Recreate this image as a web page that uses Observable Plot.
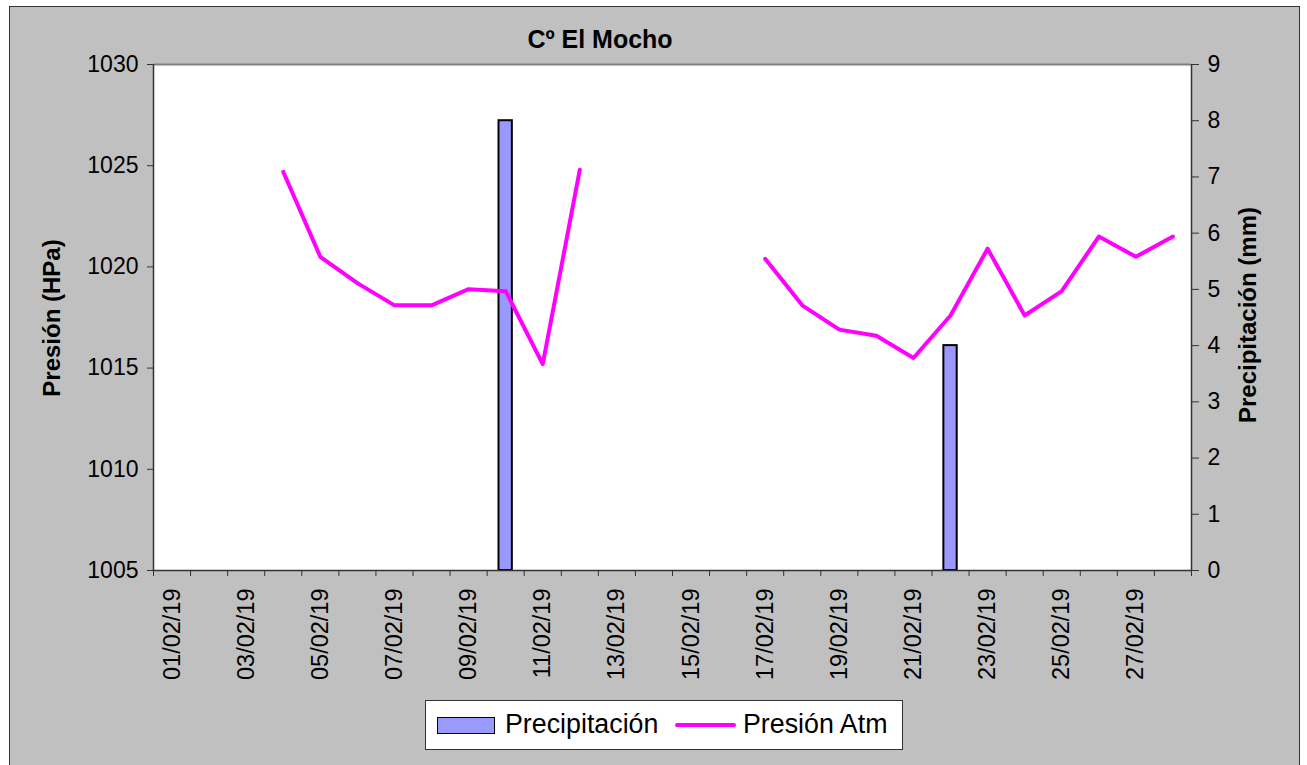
<!DOCTYPE html>
<html><head><meta charset="utf-8">
<script src="https://cdn.jsdelivr.net/npm/d3@7"></script>
<script src="https://cdn.jsdelivr.net/npm/@observablehq/plot@0.6"></script>
<style>
body{margin:0;background:#fff;font-family:"Liberation Sans",Arial,sans-serif;}
#wrap{position:relative;width:1307px;height:765px;overflow:hidden;}
#bg{position:absolute;left:9px;top:6px;width:1289px;height:790px;background:#c0c0c0;border:1px solid #333;}
#chart{position:absolute;left:0;top:0;}
.t{position:absolute;white-space:nowrap;color:#000;line-height:1;}
#title{left:600px;top:27px;transform:translateX(-50%);font-weight:bold;font-size:25px;}
#ylab{left:52px;top:318px;transform:translate(-50%,-50%) rotate(-90deg);font-weight:bold;font-size:24px;}
#y2lab{left:1248px;top:315px;transform:translate(-50%,-50%) rotate(-90deg);font-weight:bold;font-size:24px;}
#legend{position:absolute;left:425px;top:700px;width:476px;height:48px;background:#fff;border:1px solid #333;}
#legend .sw{position:absolute;left:11px;top:16px;width:56px;height:15px;background:#9999ff;border:1.5px solid #000;}
#legend .ln{position:absolute;left:249px;top:22px;width:61px;height:4px;background:#ff00ff;border-radius:2px;}
#legend .l1{position:absolute;left:79px;top:10px;font-size:26.8px;}
#legend .l2{position:absolute;left:317px;top:10px;font-size:26.8px;}
</style></head>
<body>
<div id="wrap">
  <div id="bg"></div>
  <div id="chart"></div>
  <div class="t" id="title">Cº El Mocho</div>
  <div class="t" id="ylab">Presión (HPa)</div>
  <div class="t" id="y2lab">Precipitación (mm)</div>
  <div id="legend"><div class="sw"></div><div class="t l1">Precipitación</div><div class="ln"></div><div class="t l2">Presión Atm</div></div>
</div>
<script>
const dates = ["01/02/19","02/02/19","03/02/19","04/02/19","05/02/19","06/02/19","07/02/19","08/02/19","09/02/19","10/02/19","11/02/19","12/02/19","13/02/19","14/02/19","15/02/19","16/02/19","17/02/19","18/02/19","19/02/19","20/02/19","21/02/19","22/02/19","23/02/19","24/02/19","25/02/19","26/02/19","27/02/19","28/02/19"];
const presion = [null,null,null,1024.7,1020.5,1019.2,1018.1,1018.1,1018.9,1018.8,1015.2,1024.8,null,null,null,null,1020.4,1018.1,1016.9,1016.6,1015.5,1017.6,1020.9,1017.6,1018.8,1021.5,1020.5,1021.5];
const precipitacion = [0,0,0,0,0,0,0,0,0,8,0,0,0,0,0,0,0,0,0,0,0,4,0,0,0,0,0,0];
const presionTicks = [1005,1010,1015,1020,1025,1030];
const precipTicks = [0,1,2,3,4,5,6,7,8,9];

const pMin = 1005, pMax = 1030, rMax = 9;
const toP = v => pMin + v * (pMax - pMin) / rMax;
const rows = dates.map((d, i) => ({i, date: d, presion: presion[i], precip: precipitacion[i]}));

const chart = Plot.plot({
  width: 1307, height: 765,
  marginLeft: 153, marginRight: 116, marginTop: 64, marginBottom: 195,
  style: {background: "transparent", fontFamily: "'Liberation Sans', Arial, sans-serif", fontSize: "23px", color: "#000"},
  x: {domain: [0, dates.length]},
  y: {domain: [pMin, pMax]},
  marks: [
    Plot.frame({fill: "white", stroke: null}),
    Plot.rectY(rows.filter(d => d.precip > 0), {x1: d => d.i + 0.32, x2: d => d.i + 0.68, y1: pMin, y2: d => toP(d.precip), fill: "#9999ff", stroke: "#000", strokeWidth: 2}),
    Plot.line(rows, {x: d => d.i + 0.5, y: "presion", stroke: "#ff00ff", strokeWidth: 4}),
    Plot.ruleY([pMax], {stroke: "#808080", strokeWidth: 2}),
    Plot.ruleX([0, dates.length], {stroke: "#333", strokeWidth: 1.5}),
    Plot.ruleY([pMin], {stroke: "#333", strokeWidth: 1.5}),
    Plot.axisY(presionTicks, {anchor: "left", tickSize: 6, tickPadding: 9, label: null, stroke: "#333", tickFormat: v => String(v)}),
    Plot.axisY(precipTicks.map(toP), {anchor: "right", tickSize: 7, tickPadding: 9, label: null, stroke: "#333", tickFormat: v => String(Math.round((v - pMin) * rMax / (pMax - pMin)))}),
    Plot.axisX(d3.range(0, dates.length + 1), {tickSize: 6, tickFormat: () => "", label: null, stroke: "#333"}),
    Plot.axisX(d3.range(0, dates.length, 2).map(i => i + 0.5), {tickSize: 0, tickPadding: 18, tickRotate: -90, label: null, fontSize: 23.5, tickFormat: v => dates[Math.floor(v)]})
  ]
});
document.getElementById("chart").appendChild(chart);
</script>
</body></html>
